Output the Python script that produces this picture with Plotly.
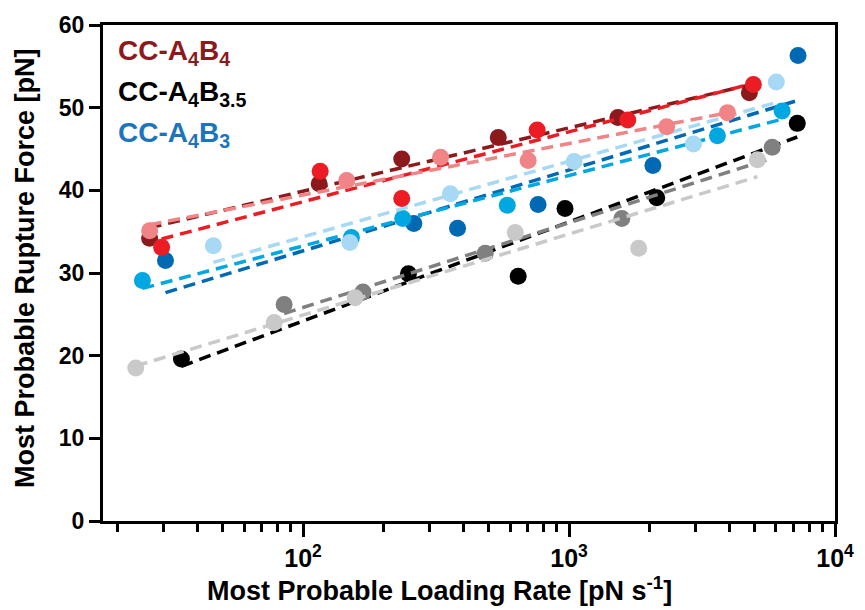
import numpy as np
import plotly.graph_objects as go

# ---- data ----
series_names = ["A4B4 #1", "A4B4 #2", "A4B4 #3",
                "A4B3.5 #1", "A4B3.5 #2", "A4B3.5 #3",
                "A4B3 #1", "A4B3 #2", "A4B3 #3"]
series_colors = ["#8C1A1C", "#EC1C24", "#F08486",
                 "#000000", "#808080", "#C9C9C9",
                 "#0069B4", "#00A7E1", "#A7D8F4"]

rate_dark_red = [26.5, 115, 235, 542, 1527, 4766]
force_dark_red = [34.2, 40.8, 43.8, 46.4, 48.8, 51.8]
rate_red = [29.4, 116, 235, 759, 1663, 4933]
force_red = [33.1, 42.3, 39.0, 47.3, 48.5, 52.8]
rate_light_red = [26.5, 146, 329, 702, 2328, 3943]
force_light_red = [35.1, 41.2, 44.0, 43.6, 47.7, 49.4]

rate_black = [34.9, 249, 644, 966, 2137, 7213]
force_black = [19.6, 29.9, 29.6, 37.8, 39.1, 48.1]
rate_gray = [84.9, 168, 484, 1580, 5807]
force_gray = [26.2, 27.7, 32.4, 36.6, 45.2]
rate_light_gray = [23.5, 77.9, 157, 628, 1828, 5108]
force_light_gray = [18.5, 24.0, 27.0, 34.9, 33.0, 43.7]

rate_dark_blue = [30.4, 261, 381, 765, 2067, 7262]
force_dark_blue = [31.5, 36.0, 35.4, 38.3, 43.0, 56.3]
rate_mid_blue = [24.9, 152, 237, 586, 3614, 6327]
force_mid_blue = [29.1, 34.3, 36.6, 38.2, 46.6, 49.6]
rate_light_blue = [46, 150, 358, 1045, 2937, 6016]
force_light_blue = [33.3, 33.7, 39.6, 43.5, 45.6, 53.1]

legend_labels = ["CC-A<sub>4</sub>B<sub>4</sub>",
                 "CC-A<sub>4</sub>B<sub>3.5</sub>",
                 "CC-A<sub>4</sub>B<sub>3</sub>"]
legend_colors = ["#8C1A1C", "#000000", "#1C75BC"]

x_title = "Most Probable Loading Rate [pN s<sup>-1</sup>]"
y_title = "Most Probable Rupture Force [pN]"

x_major_ticks = [100, 1000, 10000]
x_major_text = ["10<sup>2</sup>", "10<sup>3</sup>", "10<sup>4</sup>"]
x_minor_ticks = [20, 30, 40, 50, 60, 70, 80, 90,
                 200, 300, 400, 500, 600, 700, 800, 900,
                 2000, 3000, 4000, 5000, 6000, 7000, 8000, 9000]

rates = [rate_dark_red, rate_red, rate_light_red,
         rate_black, rate_gray, rate_light_gray,
         rate_dark_blue, rate_mid_blue, rate_light_blue]
forces = [force_dark_red, force_red, force_light_red,
          force_black, force_gray, force_light_gray,
          force_dark_blue, force_mid_blue, force_light_blue]

FONT = "Liberation Sans, Arial, sans-serif"

fig = go.Figure()

# draw order: blue group, black group, red group
order = [6, 7, 8, 3, 4, 5, 0, 1, 2]
for i in order:
    r = np.array(rates[i], dtype=float)
    f = np.array(forces[i], dtype=float)
    c = series_colors[i]
    fig.add_trace(go.Scatter(x=r, y=f, mode="markers",
                             marker=dict(size=17, color=c, line=dict(width=0)),
                             name=series_names[i], showlegend=False))
    lx = np.log10(r)
    slope, icpt = np.polyfit(lx, f, 1)
    xs = np.array([r.min(), r.max()])
    ys = icpt + slope * np.log10(xs)
    fig.add_trace(go.Scatter(x=xs, y=ys, mode="lines",
                             line=dict(color=c, width=3.5, dash="12px,7px"),
                             name=series_names[i] + " fit", showlegend=False))

for k, (lab, col) in enumerate(zip(legend_labels, legend_colors)):
    fig.add_annotation(text=lab, xref="paper", yref="paper",
                       x=0.018, y=0.945 - k * 0.083, xanchor="left", yanchor="middle",
                       showarrow=False,
                       font=dict(family=FONT, size=28, color=col, weight="bold"))

# axis titles as annotations for exact placement
fig.add_annotation(text=x_title, xref="paper", yref="paper",
                   x=0.46, y=0, yshift=-87, xanchor="center", yanchor="bottom",
                   showarrow=False,
                   font=dict(family=FONT, size=27, color="black", weight="bold"))
fig.add_annotation(text=y_title, xref="paper", yref="paper",
                   x=0, xshift=-78, y=0.51, xanchor="center", yanchor="middle",
                   textangle=-90, showarrow=False,
                   font=dict(family=FONT, size=27, color="black", weight="bold"))

fig.update_layout(
    width=865, height=610,
    margin=dict(l=103, r=30, t=25, b=89),
    paper_bgcolor="white", plot_bgcolor="white",
    font=dict(family=FONT, color="black", size=22),
    showlegend=False,
)

fig.update_xaxes(
    type="log", range=[np.log10(17.7), 4], automargin=False,
    tickmode="array", tickvals=x_major_ticks, ticktext=x_major_text,
    ticks="outside", ticklen=13, tickwidth=3, tickcolor="black",
    minor=dict(tickmode="array", tickvals=x_minor_ticks, ticks="outside",
               ticklen=8, tickwidth=3, tickcolor="black", showgrid=False),
    showline=True, linewidth=3, linecolor="black", mirror=True,
    showgrid=False, zeroline=False,
    tickfont=dict(family=FONT, size=25, color="black", weight="bold"),
)
fig.update_yaxes(
    range=[0, 60], tickmode="linear", tick0=0, dtick=10, automargin=False,
    ticks="outside", ticklen=11, tickwidth=3, tickcolor="black",
    showline=True, linewidth=3, linecolor="black", mirror=True,
    showgrid=False, zeroline=False,
    tickfont=dict(family=FONT, size=23, color="black", weight="bold"),
)

fig.write_html("out.html")
